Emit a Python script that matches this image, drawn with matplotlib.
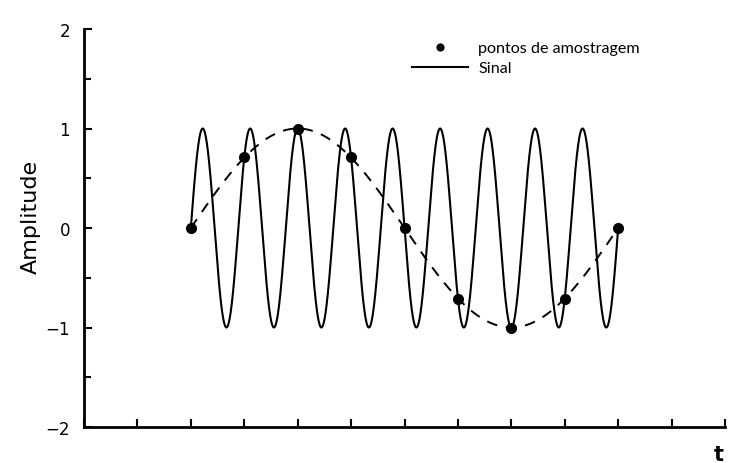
import numpy as np
import matplotlib
matplotlib.use("Agg")
import matplotlib.pyplot as plt
from matplotlib.ticker import MultipleLocator

# --- data ---
sample_t = [2, 3, 4, 5, 6, 7, 8, 9, 10]
sample_amp = [0.0, 0.71, 1.0, 0.71, 0.0, -0.71, -1.0, -0.71, 0.0]
signal_cycles = 9      # cycles of the real signal between t=2 and t=10
alias_cycles = 1       # cycles of the apparent (aliased) signal
t_start, t_end = 2, 10
y_ticks = [-2, -1, 0, 1, 2]
y_labels = ["\u22122", "\u22121", "0", "1", "2"]
legend_labels = ["pontos de amostragem", "Sinal"]

span = t_end - t_start
t_fine = np.linspace(t_start, t_end, 2000)
signal = np.sin(2 * np.pi * signal_cycles * (t_fine - t_start) / span)
alias = np.sin(2 * np.pi * alias_cycles * (t_fine - t_start) / span)

fig = plt.figure(figsize=(7.43, 4.64), dpi=100)
ax = fig.add_axes([84 / 743, 36 / 464, (725 - 84) / 743, (428 - 30) / 464])

ax.plot(t_fine, alias, color="black", lw=1.4, dashes=(5.5, 4.5))
sig_line, = ax.plot(t_fine, signal, color="black", lw=1.5)
pts, = ax.plot(sample_t, sample_amp, "o", color="black", ms=7, zorder=5)

ax.set_xlim(0, 12)
ax.set_ylim(-2, 2)
ax.set_yticks(y_ticks)
ax.set_yticklabels(y_labels, fontsize=12)
ax.yaxis.set_minor_locator(MultipleLocator(0.5))
ax.xaxis.set_major_locator(MultipleLocator(1))
ax.set_xticklabels([])
ax.tick_params(axis="both", which="both", direction="in", width=1.5)
ax.tick_params(axis="both", which="major", length=6)
ax.tick_params(axis="both", which="minor", length=5)
ax.tick_params(axis="y", pad=10)
for s in ["top", "right"]:
    ax.spines[s].set_visible(False)
for s in ["left", "bottom"]:
    ax.spines[s].set_linewidth(2)

fig.text(31 / 743, 1 - 217 / 464, "Amplitude", fontsize=16, rotation=90,
         ha="center", va="center")
fig.text(719 / 743, 1 - 455 / 464, "t", fontsize=15, fontweight="bold",
         ha="center", va="center")

ax.legend([pts, sig_line], legend_labels, loc="upper left",
          bbox_to_anchor=(404 / 743, 1 - 34 / 464), bbox_transform=fig.transFigure,
          frameon=False, prop={"family": "Lato", "size": 11.6},
          handlelength=3.5, handletextpad=0.6,
          labelspacing=0.35, borderpad=0, markerscale=0.7)

fig.savefig("out.png", dpi=100, facecolor="white")
